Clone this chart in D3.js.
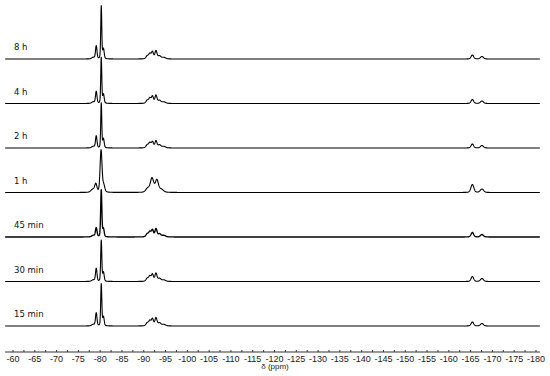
<!DOCTYPE html>
<html><head><meta charset="utf-8">
<script src="https://cdn.jsdelivr.net/npm/d3@7/dist/d3.min.js"></script>
<style>body{margin:0;background:#fff}svg{display:block}</style>
</head><body>
<svg id="c" width="550" height="376"></svg>
<script>
// Trace labels (top to bottom)
const traceLabels = ["8 h", "4 h", "2 h", "1 h", "45 min", "30 min", "15 min"];
// Axis ticks (ppm)
const tickValues = d3.range(-60, -181, -5);
// Peak lists per trace: [shift ppm, height (a.u.), half-width ppm]
const peaks8h = [[-78.4,1.5,0.4],[-79.1,13,0.2],[-80.25,53,0.14],[-80.75,10,0.2],[-90.8,3,0.35],[-91.4,5,0.3],[-92.0,7,0.28],[-92.8,8,0.28],[-93.6,3,0.4],[-94.6,1.5,0.5],[-165.4,4,0.35],[-167.6,2.5,0.4]];
const peaks4h = [[-78.4,1.5,0.4],[-79.1,12,0.2],[-80.25,46,0.14],[-80.75,9,0.2],[-90.8,3,0.35],[-91.4,5,0.3],[-92.0,7,0.28],[-92.8,8,0.28],[-93.6,3,0.4],[-94.6,1.5,0.5],[-165.4,4,0.35],[-167.6,2.5,0.4]];
const peaks2h = [[-78.4,1.5,0.4],[-79.1,12,0.2],[-80.25,45,0.14],[-80.75,9,0.2],[-90.8,3,0.35],[-91.4,5,0.3],[-92.0,6,0.28],[-92.8,7,0.28],[-93.6,3,0.4],[-94.6,1.5,0.5],[-165.4,4,0.35],[-167.6,2.5,0.4]];
const peaks1h = [[-78.3,3,0.5],[-79.0,8,0.3],[-80.2,42,0.26],[-80.8,7,0.3],[-90.9,4,0.5],[-91.9,14,0.45],[-93.0,12,0.42],[-94.0,3,0.6],[-165.4,8,0.4],[-167.6,3.5,0.45]];
const peaks45m = [[-78.4,1.5,0.4],[-79.1,9,0.22],[-80.25,47,0.16],[-80.75,8,0.2],[-90.8,3,0.35],[-91.4,5,0.3],[-92.0,7,0.28],[-92.8,8,0.28],[-93.6,3,0.4],[-94.6,1.5,0.5],[-165.4,4.5,0.35],[-167.6,2.5,0.4]];
const peaks30m = [[-78.4,1.5,0.4],[-79.1,13,0.2],[-80.25,41,0.15],[-80.75,9,0.2],[-90.8,3,0.35],[-91.4,5,0.3],[-92.0,7,0.28],[-92.8,8,0.28],[-93.6,3,0.4],[-94.6,1.5,0.5],[-165.4,5,0.35],[-167.6,3,0.4]];
const peaks15m = [[-78.4,1.5,0.4],[-79.1,13,0.2],[-80.25,42,0.15],[-80.75,9,0.2],[-90.8,3,0.35],[-91.4,5,0.3],[-92.0,7,0.28],[-92.8,8,0.28],[-93.6,3,0.4],[-94.6,1.5,0.5],[-165.4,4,0.35],[-167.6,2.5,0.4]];
const allPeaks = [peaks8h, peaks4h, peaks2h, peaks1h, peaks45m, peaks30m, peaks15m];
const ppmRange = [-58.2, -180.9];
const lorentzFraction = 0.25;

const svg = d3.select("#c");
const x = d3.scaleLinear().domain([-60, -180]).range([13, 536]);
const band = d3.scalePoint().domain(traceLabels).range([59, 326]);
const yAmp = d3.scaleLinear().domain([0, 100]).range([0, 100]);

const grid = d3.range(ppmRange[0], ppmRange[1], -0.04);
function shape(p, d) {
  const u = (p - d[0]) / d[2];
  return d[1] * (lorentzFraction / (1 + u * u) + (1 - lorentzFraction) * Math.exp(-Math.LN2 * u * u));
}
function spectrum(pk) {
  return grid.map(p => [p, d3.sum(pk, d => shape(p, d))]);
}

traceLabels.forEach((lab, i) => {
  const b = band(lab);
  const line = d3.line().x(d => x(d[0])).y(d => b - yAmp(d[1]));
  svg.append("path").datum(spectrum(allPeaks[i]))
    .attr("d", line).attr("fill", "none").attr("stroke", "#000")
    .attr("stroke-width", i === 4 ? 1.35 : 1.1).attr("stroke-linejoin", "round");
  svg.append("text").attr("x", 14).attr("y", b - 9).text(lab)
    .attr("font-family", "DejaVu Sans, Verdana, sans-serif").attr("font-size", 8.5).attr("fill", "#111");
});

// Axis
const axisY = 352;
const ax = svg.append("g").attr("transform", `translate(0,${axisY})`);
ax.append("line").attr("x1", x(ppmRange[0])).attr("x2", x(ppmRange[1])).attr("stroke", "#333");
ax.selectAll("line.t").data(d3.range(-60, -180.1, -2.5)).join("line").attr("class", "t")
  .attr("x1", d => x(d)).attr("x2", d => x(d)).attr("y1", 0).attr("y2", -2).attr("stroke", "#333");
ax.selectAll("text").data(tickValues).join("text")
  .attr("x", d => x(d)).attr("y", 9.5).attr("text-anchor", "middle")
  .attr("font-family", "Liberation Sans, Arial, sans-serif").attr("font-size", 9).attr("fill", "#222")
  .text(d => d);
svg.append("text").attr("x", 275).attr("y", 369).attr("text-anchor", "middle")
  .attr("font-family", "Liberation Sans, Arial, sans-serif").attr("font-size", 8).attr("fill", "#222")
  .text("δ (ppm)");
</script>
</body></html>
